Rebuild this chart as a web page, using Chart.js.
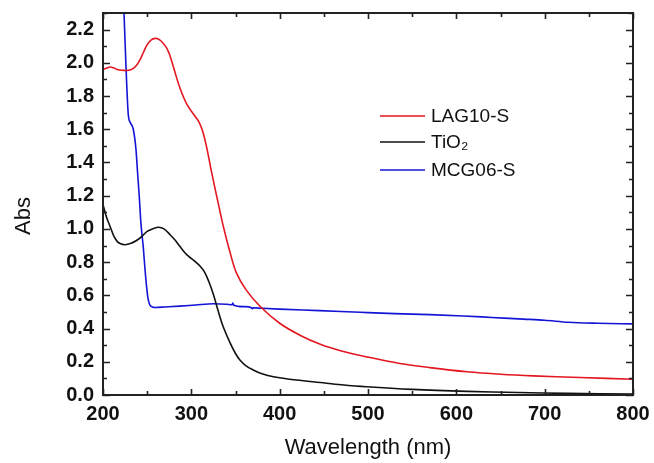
<!DOCTYPE html>
<html>
<head>
<meta charset="utf-8">
<script src="https://cdn.jsdelivr.net/npm/chart.js@4.4.1/dist/chart.umd.min.js"></script>
<style>
  body { margin: 0; background: #fff; }
  #wrap { width: 654px; height: 463px; }
</style>
</head>
<body>
<div id="wrap"><canvas id="myChart"></canvas></div>
<script>
// data
const lagX = [200, 204, 208, 212, 216, 222, 229, 234, 238, 242, 246, 250, 255, 259, 262, 266, 272, 276, 280, 287, 295, 304, 309, 313, 317, 323, 329, 336, 344, 351, 362, 378, 400, 423, 446, 470, 500, 536, 570, 612, 650, 687, 740, 800];
const lagY = [1.96, 1.968, 1.975, 1.97, 1.96, 1.955, 1.955, 1.965, 1.985, 2.02, 2.065, 2.11, 2.14, 2.147, 2.145, 2.13, 2.09, 2.04, 1.97, 1.85, 1.75, 1.68, 1.64, 1.585, 1.5, 1.34, 1.19, 1.02, 0.855, 0.735, 0.633, 0.533, 0.432, 0.36, 0.305, 0.265, 0.228, 0.19, 0.165, 0.14, 0.125, 0.115, 0.105, 0.095];

const tioX = [200, 204, 208, 212, 216, 220, 225, 231, 238, 244, 250, 256, 263, 269, 276, 282, 287, 293, 298, 304, 310, 315, 320, 325, 330, 336, 344, 350, 355, 362, 370, 380, 393, 419, 446, 470, 498, 550, 612, 670, 725, 800];
const tioY = [1.146, 1.07, 1.015, 0.96, 0.925, 0.91, 0.905, 0.912, 0.93, 0.955, 0.985, 1.0, 1.01, 1.0, 0.965, 0.93, 0.895, 0.855, 0.83, 0.805, 0.775, 0.74, 0.68, 0.605, 0.513, 0.412, 0.312, 0.25, 0.211, 0.175, 0.151, 0.128, 0.11, 0.09, 0.075, 0.062, 0.05, 0.034, 0.022, 0.015, 0.01, 0.006];

const mcgX = [221, 223.8, 226, 228.6, 231, 234.3, 237.3, 239, 241, 243, 245.6, 247.5, 249.4, 251, 253, 256, 259, 270, 287, 305, 325, 340, 346, 347, 348, 360, 368, 369, 370, 380, 400, 445, 491, 530, 570, 608, 640, 676, 700, 727, 760, 800];
const mcgY = [2.74, 2.3, 1.98, 1.69, 1.64, 1.6, 1.48, 1.35, 1.2, 1.03, 0.89, 0.76, 0.65, 0.58, 0.543, 0.53, 0.527, 0.53, 0.535, 0.542, 0.549, 0.546, 0.543, 0.553, 0.541, 0.532, 0.526, 0.519, 0.525, 0.522, 0.517, 0.508, 0.498, 0.49, 0.484, 0.476, 0.467, 0.457, 0.45, 0.438, 0.432, 0.428];

const legendNames = ['LAG10-S', 'TiO\u2082', 'MCG06-S'];
const lineColors = ['rgb(228,22,32)', 'rgb(17,17,17)', 'rgb(20,20,215)'];

const xMin = 200, xMax = 800, yMin = 0, yMax = 2.3;
const yTickValues = [0, 0.2, 0.4, 0.6, 0.8, 1.0, 1.2, 1.4, 1.6, 1.8, 2.0, 2.2];

function pts(xs, ys) {
    var out = [];
    for (var i = 0; i < xs.length; i++) {
        out.push({ x: xs[i], y: ys[i] });
    }
    return out;
}

// frame, inward ticks, legend, y title
const extras = {
    id: 'extras',
    afterDraw(chart) {
        const ctx = chart.ctx;
        const a = chart.chartArea;
        const xs = chart.scales.x, ys = chart.scales.y;
        ctx.save();
        ctx.strokeStyle = '#222';
        ctx.lineWidth = 2;
        ctx.strokeRect(a.left, a.top, a.right - a.left, a.bottom - a.top);

        ctx.lineWidth = 1.6;
        ctx.beginPath();
        for (var v = xMin; v <= xMax; v += 50) {
            var px = Math.round(xs.getPixelForValue(v)) + 0.5;
            var len = (v % 100 === 0) ? 6 : 4;
            ctx.moveTo(px, a.bottom); ctx.lineTo(px, a.bottom - len);
            ctx.moveTo(px, a.top); ctx.lineTo(px, a.top + len);
        }
        for (var k = 0; k <= 23; k++) {
            var val = k / 10;
            var py = Math.round(ys.getPixelForValue(val)) + 0.5;
            var l2 = (k % 2 === 0) ? 7 : 4;
            ctx.moveTo(a.left, py); ctx.lineTo(a.left + l2, py);
            ctx.moveTo(a.right, py); ctx.lineTo(a.right - l2, py);
        }
        ctx.stroke();

        // legend
        const rows = [116, 142, 170];
        ctx.font = '19px "Liberation Sans", Arial, sans-serif';
        ctx.textBaseline = 'middle';
        ctx.fillStyle = '#111';
        for (var i = 0; i < legendNames.length; i++) {
            ctx.strokeStyle = lineColors[i];
            ctx.lineWidth = 1.6;
            ctx.beginPath();
            ctx.moveTo(380, rows[i]); ctx.lineTo(425, rows[i]);
            ctx.stroke();
            ctx.fillText(legendNames[i], 431, rows[i] + 1);
        }

        // y axis title
        ctx.translate(24, 216);
        ctx.rotate(-Math.PI / 2);
        ctx.textAlign = 'center';
        ctx.font = '22px "Liberation Sans", Arial, sans-serif';
        ctx.fillText('Abs', 0, 0);
        ctx.restore();
    }
};

function loadChart() {
    var ctx = document.getElementById('myChart').getContext('2d');
    var chart = new Chart(ctx, {
        type: 'line',
        data: {
            datasets: [
                { label: legendNames[0], data: pts(lagX, lagY), borderColor: lineColors[0], tension: 0.35 },
                { label: legendNames[1], data: pts(tioX, tioY), borderColor: lineColors[1], tension: 0.35 },
                { label: legendNames[2], data: pts(mcgX, mcgY), borderColor: lineColors[2], cubicInterpolationMode: 'monotone' }
            ]
        },
        options: {
            responsive: true,
            maintainAspectRatio: false,
            animation: false,
            layout: { padding: { top: 13, right: 21, left: 0, bottom: 0 } },
            elements: {
                point: { radius: 0 },
                line: { borderWidth: 1.6, fill: false }
            },
            plugins: { legend: { display: false }, tooltip: { enabled: false } },
            scales: {
                x: {
                    type: 'linear',
                    min: xMin, max: xMax,
                    grid: { display: false, drawTicks: false },
                    border: { display: false },
                    ticks: {
                        stepSize: 100, padding: 7, color: '#111',
                        font: { family: '"Liberation Sans", Arial, sans-serif', size: 20, weight: 'bold' }
                    },
                    title: {
                        display: true, text: 'Wavelength (nm)', color: '#111',
                        font: { family: '"Liberation Sans", Arial, sans-serif', size: 22 },
                        padding: { top: 0, bottom: 2 }
                    },
                    afterFit: function (s) {
                        s.height = 68;
                        s.paddingLeft = 0;
                        s.paddingRight = 0;
                    }
                },
                y: {
                    min: yMin, max: yMax,
                    grid: { display: false, drawTicks: false },
                    border: { display: false },
                    afterBuildTicks: function (s) {
                        s.ticks = yTickValues.map(function (v) { return { value: v }; });
                    },
                    ticks: {
                        autoSkip: false, padding: 9, color: '#111',
                        font: { family: '"Liberation Sans", Arial, sans-serif', size: 20, weight: 'bold' },
                        callback: function (v) { return v.toFixed(1); }
                    },
                    afterFit: function (s) {
                        s.width = 103;
                        s.paddingTop = 0;
                        s.paddingBottom = 0;
                    }
                }
            }
        },
        plugins: [extras]
    });
}

loadChart();
</script>
</body>
</html>
